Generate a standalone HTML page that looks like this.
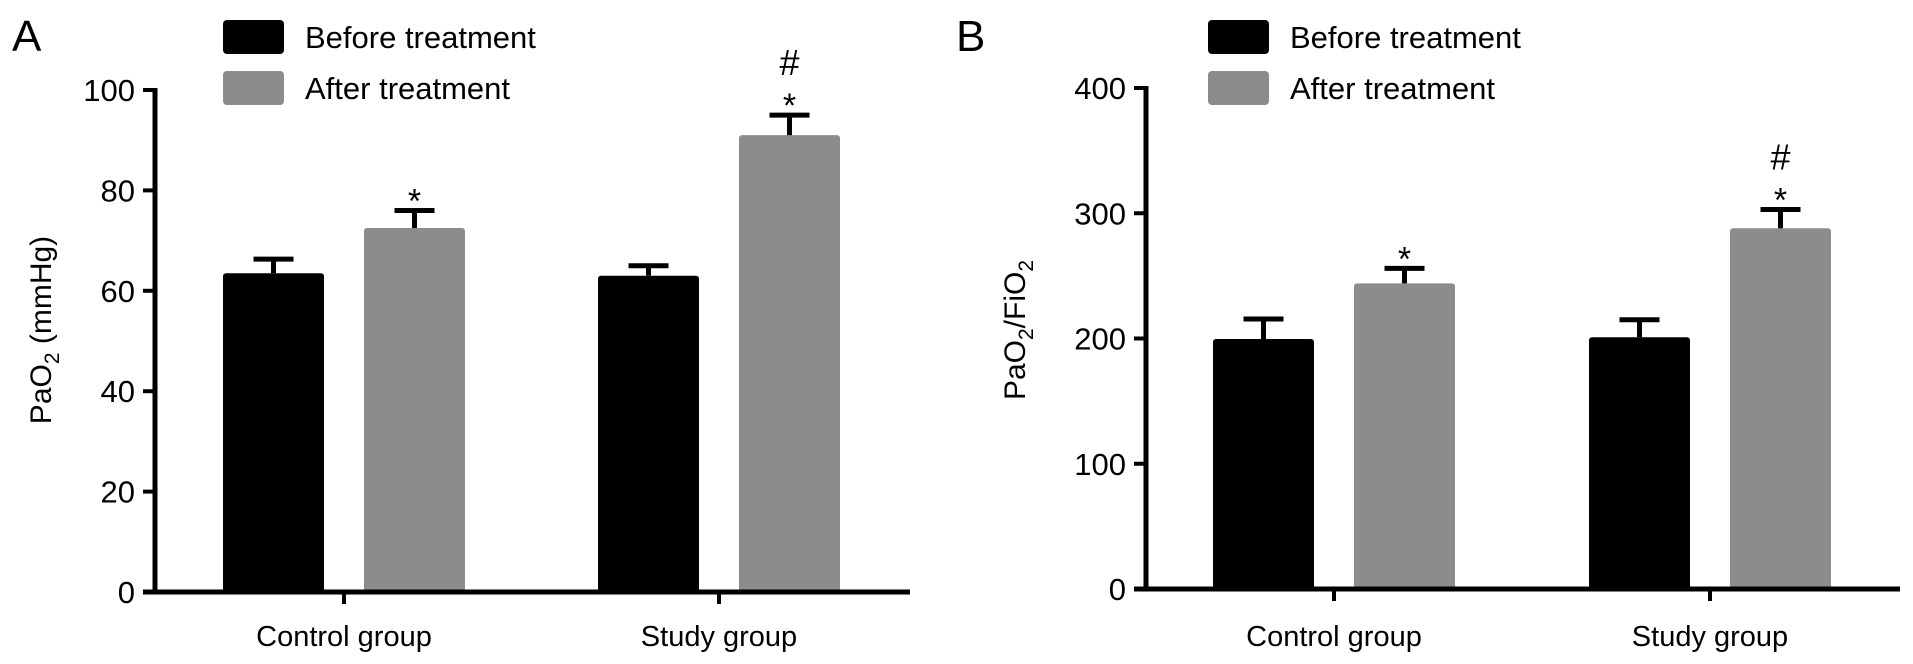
<!DOCTYPE html>
<html><head><meta charset="utf-8"><style>
html,body{margin:0;padding:0;background:#fff;}
svg{display:block;font-family:"Liberation Sans",Arial,sans-serif;}
</style></head><body>
<svg id="fig" width="1913" height="664" viewBox="0 0 1913 664" xmlns="http://www.w3.org/2000/svg"></svg>
<script>
const groups = ["Control group", "Study group"];
const seriesNames = ["Before treatment", "After treatment"];
const aBefore = [63.5, 63];
const aBeforeErr = [2.8, 2];
const aAfter = [72.5, 91];
const aAfterErr = [3.5, 4];
const bBefore = [199.6, 201];
const bBeforeErr = [16, 14];
const bAfter = [244, 288];
const bAfterErr = [12, 15];
const aTicks = [0, 20, 40, 60, 80, 100];
const bTicks = [0, 100, 200, 300, 400];
const aMarks = [["*"], ["*", "#"]];
const bMarks = [["*"], ["*", "#"]];

const NS = "http://www.w3.org/2000/svg";
const svg = document.getElementById("fig");
function mk(tag, attrs, parent) {
  const e = document.createElementNS(NS, tag);
  for (const k in attrs) e.setAttribute(k, attrs[k]);
  (parent || svg).appendChild(e);
  return e;
}

const colors = ["#000000", "#8c8c8c"];

function panel(cfg) {
  const g = mk("g", {});
  
  
  const y = v => cfg.y0 - (v - cfg.min) / (cfg.max - cfg.min) * (cfg.y0 - cfg.yTop);
  const L = mk("text", {x: cfg.letterX, y: 51, "font-size": 44, fill: "#000"}, g);
  L.textContent = cfg.letter;
  
  
  for (let i = 0; i < 2; i++) {
    const le = mk("g", {}, g);
    
    
    mk("rect", {x: cfg.legX, y: 20 + i * 51, width: 61, height: 34, rx: 4, fill: colors[i]}, le);
    const t = mk("text", {x: cfg.legX + 82, y: 48 + i * 51, "font-size": 31, fill: "#000"}, le);
    t.textContent = seriesNames[i];
  }
  const data = [[cfg.before, cfg.beforeErr], [cfg.after, cfg.afterErr]];
  const bw = 101, gap = 40;
  groups.forEach((gname, gi) => {
    const cx = cfg.centers[gi];
    for (let s = 0; s < 2; s++) {
      const v = data[s][0][gi], e = data[s][1][gi];
      const x0 = s === 0 ? cx - gap / 2 - bw : cx + gap / 2;
      const bar = mk("rect", {x: x0, y: y(v), width: bw, height: cfg.y0 - y(v), rx: 3, fill: colors[s]}, g);
      
      
      const mx = x0 + bw / 2;
      const eg = mk("g", {stroke: "#000", "stroke-width": 5}, g);
      
      
      mk("line", {x1: mx, x2: mx, y1: y(v), y2: y(v + e)}, eg);
      mk("line", {x1: mx - 20, x2: mx + 20, y1: y(v + e), y2: y(v + e)}, eg);
      if (s === 1) {
        const marks = cfg.marks[gi];
        marks.forEach((m) => {
          const isStar = m === "*";
          const t = mk("text", {x: mx, y: y(v + e) + (isStar ? 2 : -40), "font-size": isStar ? 34 : 36, "text-anchor": "middle", fill: "#000"}, g);
          t.textContent = m;
          
          
        });
      }
    }
    const tk = mk("line", {x1: cx, x2: cx, y1: cfg.y0, y2: cfg.y0 + 12, stroke: "#000", "stroke-width": 4}, g);
    
    
    const lbl = mk("text", {x: cx, y: 646, "font-size": 29, "text-anchor": "middle", fill: "#000"}, g);
    lbl.textContent = gname;
    
    
  });
  const ya = mk("line", {x1: cfg.axX, x2: cfg.axX, y1: cfg.yTop - 2, y2: cfg.y0 + 2, stroke: "#000", "stroke-width": 5}, g);
  
  
  const xa = mk("line", {x1: cfg.axX - 12, x2: cfg.axEnd, y1: cfg.y0, y2: cfg.y0, stroke: "#000", "stroke-width": 5}, g);
  
  
  cfg.ticks.forEach(tv => {
    const tl = mk("line", {x1: cfg.axX - 12, x2: cfg.axX, y1: y(tv), y2: y(tv), stroke: "#000", "stroke-width": 4}, g);
    
    
    const t = mk("text", {x: cfg.axX - 20, y: y(tv) + 11, "font-size": 31, "text-anchor": "end", fill: "#000"}, g);
    t.textContent = tv;
    
    
  });
  const yt = mk("text", {x: 0, y: 0, "font-size": 30, "text-anchor": "middle", fill: "#000",
    transform: "translate(" + cfg.titleX + ",330) rotate(-90)"}, g);
  yt.innerHTML = cfg.title;
  
  
}

panel({name: "panel-a-pao2", letter: "A", letterX: 12, legX: 223, axX: 155, axEnd: 910, y0: 592, yTop: 90, min: 0, max: 100,
  centers: [344, 719], before: aBefore, beforeErr: aBeforeErr, after: aAfter, afterErr: aAfterErr,
  ticks: aTicks, marks: aMarks, titleX: 51,
  title: 'PaO<tspan font-size="21" dy="8">2</tspan><tspan dy="-8"> (mmHg)</tspan>'});
panel({name: "panel-b-pao2-fio2", letter: "B", letterX: 956, legX: 1208, axX: 1146, axEnd: 1900, y0: 589, yTop: 88, min: 0, max: 400,
  centers: [1334, 1710], before: bBefore, beforeErr: bBeforeErr, after: bAfter, afterErr: bAfterErr,
  ticks: bTicks, marks: bMarks, titleX: 1025,
  title: 'PaO<tspan font-size="21" dy="8">2</tspan><tspan dy="-8">/FiO</tspan><tspan font-size="21" dy="8">2</tspan>'});
</script>
</body></html>
